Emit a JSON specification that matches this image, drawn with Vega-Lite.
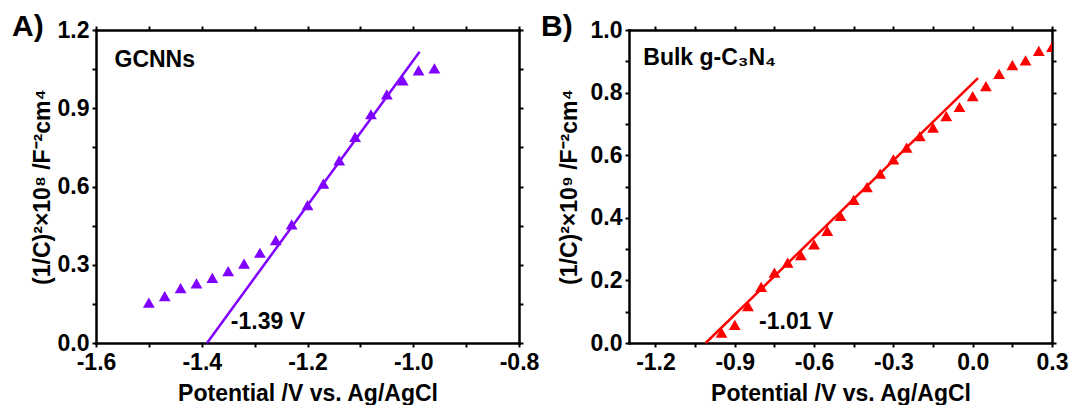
{
  "$schema": "https://vega.github.io/schema/vega-lite/v6.json",
  "background": "white",
  "padding": {"left": 12, "top": 12, "right": 8, "bottom": 0},
  "bounds": "flush",
  "spacing": 110,
  "datasets": {
    "gcnn": [
      {"potential": -1.50, "value": 0.155},
      {"potential": -1.47, "value": 0.180},
      {"potential": -1.44, "value": 0.210},
      {"potential": -1.41, "value": 0.229},
      {"potential": -1.38, "value": 0.250},
      {"potential": -1.35, "value": 0.276},
      {"potential": -1.32, "value": 0.304},
      {"potential": -1.29, "value": 0.346},
      {"potential": -1.26, "value": 0.394},
      {"potential": -1.23, "value": 0.455},
      {"potential": -1.20, "value": 0.529},
      {"potential": -1.17, "value": 0.611},
      {"potential": -1.14, "value": 0.700},
      {"potential": -1.11, "value": 0.790},
      {"potential": -1.08, "value": 0.877},
      {"potential": -1.05, "value": 0.953},
      {"potential": -1.02, "value": 1.007},
      {"potential": -0.99, "value": 1.045},
      {"potential": -0.96, "value": 1.053}
    ],
    "gcnnFit": [
      {"potential": -1.39, "value": 0.0},
      {"potential": -0.988, "value": 1.117}
    ],
    "gcnnLabels": [
      {"potential": -1.565, "value": 1.058, "label": "GCNNs"},
      {"potential": -1.345, "value": 0.055, "label": "-1.39 V"}
    ],
    "bulk": [
      {"potential": -0.95, "value": 0.033},
      {"potential": -0.90, "value": 0.058},
      {"potential": -0.85, "value": 0.118},
      {"potential": -0.80, "value": 0.179},
      {"potential": -0.75, "value": 0.225},
      {"potential": -0.70, "value": 0.257},
      {"potential": -0.65, "value": 0.281},
      {"potential": -0.60, "value": 0.315},
      {"potential": -0.55, "value": 0.358},
      {"potential": -0.50, "value": 0.406},
      {"potential": -0.45, "value": 0.457},
      {"potential": -0.40, "value": 0.498},
      {"potential": -0.35, "value": 0.541},
      {"potential": -0.30, "value": 0.587},
      {"potential": -0.25, "value": 0.624},
      {"potential": -0.20, "value": 0.661},
      {"potential": -0.15, "value": 0.688},
      {"potential": -0.10, "value": 0.725},
      {"potential": -0.05, "value": 0.754},
      {"potential": 0.00, "value": 0.789},
      {"potential": 0.05, "value": 0.821},
      {"potential": 0.10, "value": 0.860},
      {"potential": 0.15, "value": 0.888},
      {"potential": 0.20, "value": 0.903},
      {"potential": 0.25, "value": 0.933},
      {"potential": 0.30, "value": 0.946}
    ],
    "bulkFit": [
      {"potential": -1.01, "value": 0.0},
      {"potential": 0.02, "value": 0.846}
    ],
    "bulkLabels": [
      {"potential": -1.246, "value": 0.887, "label": "Bulk g-C₃N₄"},
      {"potential": -0.808, "value": 0.046, "label": "-1.01 V"}
    ]
  },
  "hconcat": [
    {
      "width": 423,
      "height": 313,
      "title": {"text": "A)", "dx": -84, "dy": 27},
      "resolve": {"axis": {"x": "independent", "y": "independent"}},
      "layer": [
        {
          "data": {"name": "gcnn"},
          "mark": {"type": "point", "shape": "triangle-up", "filled": true, "size": 140, "color": "#8000FF", "opacity": 1},
          "encoding": {
            "x": {"field": "potential", "type": "quantitative",
                  "scale": {"domain": [-1.6, -0.8], "nice": false, "zero": false},
                  "axis": {"orient": "bottom", "values": [-1.6, -1.5, -1.4, -1.3, -1.2, -1.1, -1.0, -0.9, -0.8],
                           "labelExpr": "abs(round(datum.value*10)) % 2 == 0 ? replace(format(datum.value, '.1f'), '\u2212', '-') : ''",
                           "title": "Potential /V vs. Ag/AgCl"}},
            "y": {"field": "value", "type": "quantitative",
                  "scale": {"domain": [0, 1.2], "nice": false},
                  "axis": {"orient": "left", "values": [0, 0.15, 0.3, 0.45, 0.6, 0.75, 0.9, 1.05, 1.2],
                           "labelExpr": "round(datum.value*100) % 30 == 0 ? format(datum.value, '.1f') : ''",
                           "title": "(1/C)²×10⁸ /F⁻²cm⁴", "titlePadding": 3}}
          }
        },
        {
          "data": {"name": "gcnnFit"},
          "mark": {"type": "line", "color": "#8000FF", "strokeWidth": 2.5},
          "encoding": {
            "x": {"field": "potential", "type": "quantitative",
                  "axis": {"orient": "top", "values": [-1.6, -1.5, -1.4, -1.3, -1.2, -1.1, -1.0, -0.9, -0.8], "labels": false, "title": null}},
            "y": {"field": "value", "type": "quantitative",
                  "axis": {"orient": "right", "values": [0, 0.15, 0.3, 0.45, 0.6, 0.75, 0.9, 1.05, 1.2], "labels": false, "title": null}}
          }
        },
        {
          "data": {"name": "gcnnLabels"},
          "mark": {"type": "text", "align": "left", "baseline": "alphabetic", "font": "Liberation Sans", "fontSize": 23, "fontWeight": "bold", "color": "black"},
          "encoding": {
            "x": {"field": "potential", "type": "quantitative", "axis": null},
            "y": {"field": "value", "type": "quantitative", "axis": null},
            "text": {"field": "label"}
          }
        }
      ]
    },
    {
      "width": 423,
      "height": 313,
      "title": {"text": "B)", "dx": -88, "dy": 27},
      "resolve": {"axis": {"x": "independent", "y": "independent"}},
      "layer": [
        {
          "data": {"name": "bulk"},
          "mark": {"type": "point", "shape": "triangle-up", "filled": true, "size": 140, "color": "#FF0000", "opacity": 1, "clip": true},
          "encoding": {
            "x": {"field": "potential", "type": "quantitative",
                  "scale": {"domain": [-1.3, 0.3], "nice": false, "zero": false},
                  "axis": {"orient": "bottom", "values": [-1.2, -1.05, -0.9, -0.75, -0.6, -0.45, -0.3, -0.15, 0, 0.15, 0.3],
                           "labelExpr": "abs(round(datum.value*100)) % 30 == 0 ? replace(format(datum.value, '.1f'), '\u2212', '-') : ''",
                           "title": "Potential /V vs. Ag/AgCl"}},
            "y": {"field": "value", "type": "quantitative",
                  "scale": {"domain": [0, 1.0], "nice": false},
                  "axis": {"orient": "left", "values": [0, 0.1, 0.2, 0.3, 0.4, 0.5, 0.6, 0.7, 0.8, 0.9, 1.0],
                           "labelExpr": "round(datum.value*10) % 2 == 0 ? format(datum.value, '.1f') : ''",
                           "title": "(1/C)²×10⁹ /F⁻²cm⁴", "titlePadding": 9}}
          }
        },
        {
          "data": {"name": "bulkFit"},
          "mark": {"type": "line", "color": "#FF0000", "strokeWidth": 2.5},
          "encoding": {
            "x": {"field": "potential", "type": "quantitative",
                  "axis": {"orient": "top", "values": [-1.2, -1.05, -0.9, -0.75, -0.6, -0.45, -0.3, -0.15, 0, 0.15, 0.3], "labels": false, "title": null}},
            "y": {"field": "value", "type": "quantitative",
                  "axis": {"orient": "right", "values": [0, 0.1, 0.2, 0.3, 0.4, 0.5, 0.6, 0.7, 0.8, 0.9, 1.0], "labels": false, "title": null}}
          }
        },
        {
          "data": {"name": "bulkLabels"},
          "mark": {"type": "text", "align": "left", "baseline": "alphabetic", "font": "Liberation Sans", "fontSize": 23, "fontWeight": "bold", "color": "black"},
          "encoding": {
            "x": {"field": "potential", "type": "quantitative", "axis": null},
            "y": {"field": "value", "type": "quantitative", "axis": null},
            "text": {"field": "label"}
          }
        }
      ]
    }
  ],
  "config": {
    "view": {"stroke": null},
    "font": "Liberation Sans",
    "title": {"font": "Liberation Sans", "fontSize": 30, "fontWeight": "bold", "anchor": "start", "frame": "group", "offset": 0, "baseline": "alphabetic", "color": "black"},
    "axis": {
      "domainColor": "black", "domainWidth": 2.5, "domainCap": "square",
      "tickColor": "black", "tickWidth": 2, "tickSize": 4,
      "labelFont": "Liberation Sans", "labelFontSize": 23, "labelFontWeight": "bold", "labelColor": "black", "labelPadding": 3,
      "labelFlush": false, "labelOverlap": false,
      "titleFont": "Liberation Sans", "titleFontSize": 23, "titleFontWeight": "bold", "titleColor": "black",
      "grid": false
    },
    "axisX": {"titlePadding": 8, "labelPadding": 4}
  }
}
